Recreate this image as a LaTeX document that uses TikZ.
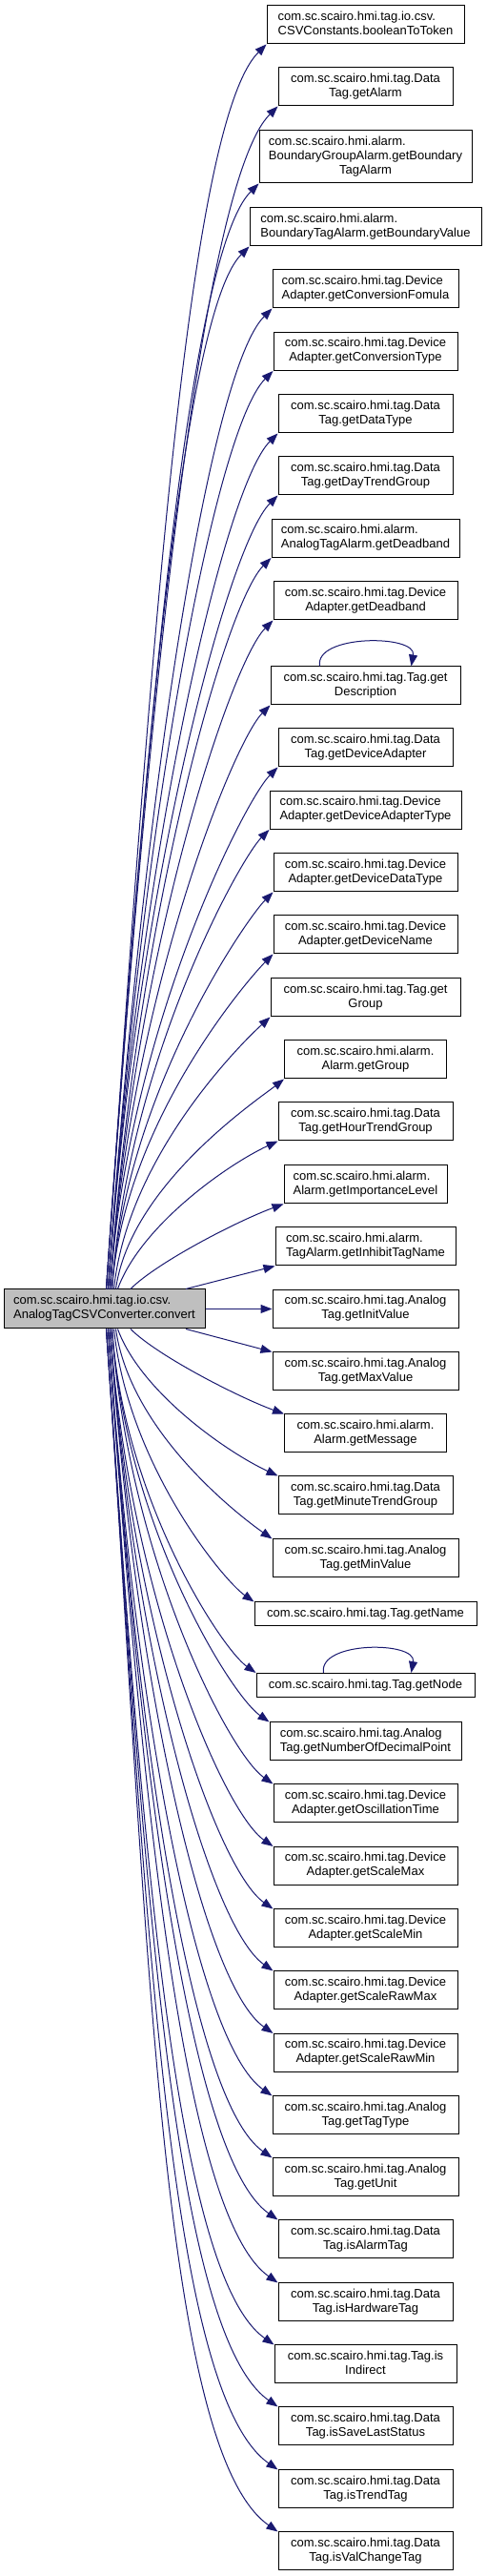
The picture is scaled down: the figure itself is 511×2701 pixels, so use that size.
\documentclass[tikz,border=0pt]{standalone}
\usepackage{fontspec}
\setmainfont{Liberation Sans}
\usetikzlibrary{arrows.meta}
\definecolor{edgeblue}{HTML}{191970}
\definecolor{mainfill}{HTML}{BFBFBF}
\newcommand{\gfont}{\fontsize{13}{15}\selectfont}
% first line flush left, the rest centred
\newcommand{\fname}[2]{\begin{tabular}{@{}c@{}}\multicolumn{1}{@{}l@{}}{#1}\\#2\end{tabular}}
\tikzset{
  callee/.style={draw=black, fill=white, line width=1pt, inner sep=0pt,
    minimum height=40pt, minimum width=#1, font=\gfont},
  caller/.style={callee=#1, fill=mainfill, minimum height=41pt},
  call/.style={draw=edgeblue, line width=1pt, -{Triangle[length=12pt,width=9pt]}},
}
\begin{document}
\begin{tikzpicture}[x=1pt,y=1pt]
\useasboundingbox (0,0) rectangle (511,2701);

% caller
\node[caller=211pt] (main) at (109.5,1328.5) {\fname{com.sc.scairo.hmi.tag.io.csv.}{AnalogTagCSVConverter.convert}};

% callees
\node[callee=207pt] (c1) at (383.5,2675) {\fname{com.sc.scairo.hmi.tag.io.csv.}{CSVConstants.booleanToToken}};
\node[callee=183pt] (c2) at (383.5,2610) {\fname{com.sc.scairo.hmi.tag.Data}{Tag.getAlarm}};
\node[callee=223pt, minimum height=55pt] (c3) at (383.5,2536.5) {\fname{com.sc.scairo.hmi.alarm.}{BoundaryGroupAlarm.getBoundary\\TagAlarm}};
\node[callee=243pt] (c4) at (383.5,2463) {\fname{com.sc.scairo.hmi.alarm.}{BoundaryTagAlarm.getBoundaryValue}};
\node[callee=195pt] (c5) at (383.5,2398) {\fname{com.sc.scairo.hmi.tag.Device}{Adapter.getConversionFomula}};
\node[callee=193pt] (c6) at (383.5,2332.5) {\fname{com.sc.scairo.hmi.tag.Device}{Adapter.getConversionType}};
\node[callee=183pt] (c7) at (383.5,2267) {\fname{com.sc.scairo.hmi.tag.Data}{Tag.getDataType}};
\node[callee=183pt] (c8) at (383.5,2202) {\fname{com.sc.scairo.hmi.tag.Data}{Tag.getDayTrendGroup}};
\node[callee=197pt] (c9) at (383.5,2136.5) {\fname{com.sc.scairo.hmi.alarm.}{AnalogTagAlarm.getDeadband}};
\node[callee=193pt] (c10) at (383.5,2071) {\fname{com.sc.scairo.hmi.tag.Device}{Adapter.getDeadband}};
\node[callee=199pt] (c11) at (383.5,1982) {\fname{com.sc.scairo.hmi.tag.Tag.get}{Description}};
\node[callee=183pt] (c12) at (383.5,1917) {\fname{com.sc.scairo.hmi.tag.Data}{Tag.getDeviceAdapter}};
\node[callee=201pt] (c13) at (383.5,1851.5) {\fname{com.sc.scairo.hmi.tag.Device}{Adapter.getDeviceAdapterType}};
\node[callee=193pt] (c14) at (383.5,1786) {\fname{com.sc.scairo.hmi.tag.Device}{Adapter.getDeviceDataType}};
\node[callee=193pt] (c15) at (383.5,1721) {\fname{com.sc.scairo.hmi.tag.Device}{Adapter.getDeviceName}};
\node[callee=199pt] (c16) at (383.5,1655) {\fname{com.sc.scairo.hmi.tag.Tag.get}{Group}};
\node[callee=170pt] (c17) at (383.5,1590) {\fname{com.sc.scairo.hmi.alarm.}{Alarm.getGroup}};
\node[callee=183pt] (c18) at (383.5,1525) {\fname{com.sc.scairo.hmi.tag.Data}{Tag.getHourTrendGroup}};
\node[callee=171pt] (c19) at (383.5,1459) {\fname{com.sc.scairo.hmi.alarm.}{Alarm.getImportanceLevel}};
\node[callee=189pt] (c20) at (383.5,1394) {\fname{com.sc.scairo.hmi.alarm.}{TagAlarm.getInhibitTagName}};
\node[callee=195pt] (c21) at (383.5,1328.5) {\fname{com.sc.scairo.hmi.tag.Analog}{Tag.getInitValue}};
\node[callee=195pt] (c22) at (383.5,1263) {\fname{com.sc.scairo.hmi.tag.Analog}{Tag.getMaxValue}};
\node[callee=170pt] (c23) at (383.5,1198) {\fname{com.sc.scairo.hmi.alarm.}{Alarm.getMessage}};
\node[callee=183pt] (c24) at (383.5,1133) {\fname{com.sc.scairo.hmi.tag.Data}{Tag.getMinuteTrendGroup}};
\node[callee=195pt] (c25) at (383.5,1067) {\fname{com.sc.scairo.hmi.tag.Analog}{Tag.getMinValue}};
\node[callee=233pt, minimum height=25pt] (c26) at (383.5,1008.5) {com.sc.scairo.hmi.tag.Tag.getName};
\node[callee=229pt, minimum height=25pt] (c27) at (383.5,934) {com.sc.scairo.hmi.tag.Tag.getNode};
\node[callee=201pt] (c28) at (383.5,875) {\fname{com.sc.scairo.hmi.tag.Analog}{Tag.getNumberOfDecimalPoint}};
\node[callee=193pt] (c29) at (383.5,810) {\fname{com.sc.scairo.hmi.tag.Device}{Adapter.getOscillationTime}};
\node[callee=193pt] (c30) at (383.5,744.5) {\fname{com.sc.scairo.hmi.tag.Device}{Adapter.getScaleMax}};
\node[callee=193pt] (c31) at (383.5,679) {\fname{com.sc.scairo.hmi.tag.Device}{Adapter.getScaleMin}};
\node[callee=193pt] (c32) at (383.5,614) {\fname{com.sc.scairo.hmi.tag.Device}{Adapter.getScaleRawMax}};
\node[callee=193pt] (c33) at (383.5,548.5) {\fname{com.sc.scairo.hmi.tag.Device}{Adapter.getScaleRawMin}};
\node[callee=195pt] (c34) at (383.5,483) {\fname{com.sc.scairo.hmi.tag.Analog}{Tag.getTagType}};
\node[callee=195pt] (c35) at (383.5,418) {\fname{com.sc.scairo.hmi.tag.Analog}{Tag.getUnit}};
\node[callee=183pt] (c36) at (383.5,353) {\fname{com.sc.scairo.hmi.tag.Data}{Tag.isAlarmTag}};
\node[callee=183pt] (c37) at (383.5,287) {\fname{com.sc.scairo.hmi.tag.Data}{Tag.isHardwareTag}};
\node[callee=191pt] (c38) at (383.5,222) {\fname{com.sc.scairo.hmi.tag.Tag.is}{Indirect}};
\node[callee=183pt] (c39) at (383.5,157) {\fname{com.sc.scairo.hmi.tag.Data}{Tag.isSaveLastStatus}};
\node[callee=183pt] (c40) at (383.5,91) {\fname{com.sc.scairo.hmi.tag.Data}{Tag.isTrendTag}};
\node[callee=183pt] (c41) at (383.5,26) {\fname{com.sc.scairo.hmi.tag.Data}{Tag.isValChangeTag}};

% calls upwards
\draw[call] ([xshift=2pt]main.north) .. controls +(86:653) and +(225:118) .. (c1.south west);
\draw[call] ([xshift=2pt]main.north) .. controls +(86:620) and +(225:112) .. (c2.south west);
\draw[call] ([xshift=2pt]main.north) .. controls +(86:580) and +(225:104) .. (c3.south west);
\draw[call] ([xshift=2pt]main.north) .. controls +(86:547) and +(225:98) .. (c4.south west);
\draw[call] ([xshift=4pt]main.north) .. controls +(86:514) and +(225:93) .. (c5.south west);
\draw[call] ([xshift=4pt]main.north) .. controls +(86:482) and +(225:87) .. (c6.south west);
\draw[call] ([xshift=4pt]main.north) .. controls +(86:449) and +(225:81) .. (c7.south west);
\draw[call] ([xshift=4pt]main.north) .. controls +(86:416) and +(225:75) .. (c8.south west);
\draw[call] ([xshift=6pt]main.north) .. controls +(86:384) and +(225:69) .. (c9.south west);
\draw[call] ([xshift=6pt]main.north) .. controls +(86:351) and +(225:63) .. (c10.south west);
\draw[call] ([xshift=6pt]main.north) .. controls +(86:306) and +(225:55) .. (c11.south west);
\draw[call] ([xshift=6pt]main.north) .. controls +(86:274) and +(225:49) .. (c12.south west);
\draw[call] ([xshift=8pt]main.north) .. controls +(86:241) and +(225:43) .. (c13.south west);
\draw[call] ([xshift=8pt]main.north) .. controls +(86:208) and +(225:38) .. (c14.south west);
\draw[call] ([xshift=8pt]main.north) .. controls +(86:176) and +(225:35) .. (c15.south west);
\draw[call] ([xshift=10pt]main.north) .. controls +(84:143) and +(222:35) .. (c16.south west);
\draw[call] ([xshift=12pt]main.north) .. controls +(82:110) and +(218:35) .. (c17.south west);
\draw[call] ([xshift=14pt]main.north) .. controls +(70:70) and +(205:60) .. (c18.south west);
\draw[call] ([xshift=27.5pt]main.north) .. controls +(45:40) and +(200:50) .. (c19.south west);
\draw[call] ([xshift=85.5pt]main.north) -- (c20.south west);

% same level
\draw[call] (main.east) -- (c21.west);

% calls downwards
\draw[call] ([xshift=85.5pt]main.south) -- (c22.north west);
\draw[call] ([xshift=27.5pt]main.south) .. controls +(-45:40) and +(160:50) .. (c23.north west);
\draw[call] ([xshift=14pt]main.south) .. controls +(-70:70) and +(155:60) .. (c24.north west);
\draw[call] ([xshift=12pt]main.south) .. controls +(-82:110) and +(145:40) .. (c25.north west);
\draw[call] ([xshift=10pt]main.south) .. controls +(-84:143) and +(145:40) .. (c26.north west);
\draw[call] ([xshift=8pt]main.south) .. controls +(-86:181) and +(145:43) .. (c27.north west);
\draw[call] ([xshift=8pt]main.south) .. controls +(-86:206) and +(145:50) .. (c28.north west);
\draw[call] ([xshift=8pt]main.south) .. controls +(-86:239) and +(145:57) .. (c29.north west);
\draw[call] ([xshift=6pt]main.south) .. controls +(-86:272) and +(145:65) .. (c30.north west);
\draw[call] ([xshift=6pt]main.south) .. controls +(-86:304) and +(145:73) .. (c31.north west);
\draw[call] ([xshift=6pt]main.south) .. controls +(-86:337) and +(145:81) .. (c32.north west);
\draw[call] ([xshift=6pt]main.south) .. controls +(-86:370) and +(145:89) .. (c33.north west);
\draw[call] ([xshift=4pt]main.south) .. controls +(-86:402) and +(145:97) .. (c34.north west);
\draw[call] ([xshift=4pt]main.south) .. controls +(-86:435) and +(145:104) .. (c35.north west);
\draw[call] ([xshift=4pt]main.south) .. controls +(-86:468) and +(145:112) .. (c36.north west);
\draw[call] ([xshift=4pt]main.south) .. controls +(-86:500) and +(145:120) .. (c37.north west);
\draw[call] ([xshift=2pt]main.south) .. controls +(-86:533) and +(145:128) .. (c38.north west);
\draw[call] ([xshift=2pt]main.south) .. controls +(-86:566) and +(145:136) .. (c39.north west);
\draw[call] ([xshift=2pt]main.south) .. controls +(-86:598) and +(145:144) .. (c40.north west);
\draw[call] ([xshift=2pt]main.south) .. controls +(-86:631) and +(145:151) .. (c41.north west);

% recursive calls
\draw[call] ([xshift=-48pt]c11.north) .. controls +(100:34) and +(80:34) .. ([xshift=48pt]c11.north);
\draw[call] ([xshift=-44pt]c27.north) .. controls +(100:34) and +(80:34) .. ([xshift=48pt]c27.north);
\end{tikzpicture}
\end{document}
